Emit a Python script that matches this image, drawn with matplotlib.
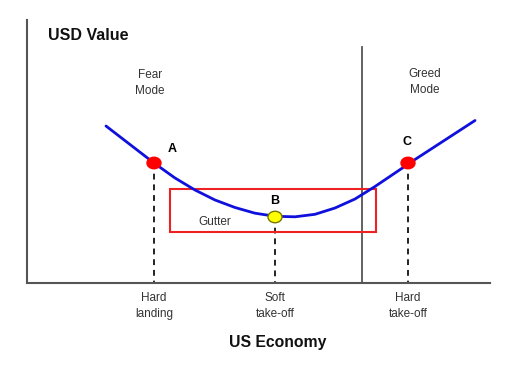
import matplotlib.pyplot as plt
from matplotlib.patches import Rectangle, Ellipse

plt.rcParams['font.family'] = ['Liberation Sans', 'DejaVu Sans']

# curve of USD value vs US economy (picture coordinates, y grows downward)
curve_x = [106, 130, 154, 175, 195, 215, 235, 255, 275, 295, 315, 335, 355, 375, 395, 415, 435, 455, 475]
curve_y = [126, 144.5, 163, 178, 190, 200, 207.5, 213.2, 216.3, 216.8, 214.3, 208, 199, 186.5, 173, 159.5, 146.5, 133.5, 120.5]

point_names = ["A", "B", "C"]
point_x = [154, 275, 408]
point_y = [163, 217, 163]
point_colors = ["red", "yellow", "red"]

tick_labels = ["Hard\nlanding", "Soft\ntake-off", "Hard\ntake-off"]

fig = plt.figure(figsize=(5.14, 3.86), dpi=100)
ax = fig.add_axes([0, 0, 1, 1])
ax.set_xlim(0, 514)
ax.set_ylim(386, 0)
ax.axis("off")

axis_col = "#555555"
# axes
ax.plot([27, 27], [20, 283], color=axis_col, lw=1.5)
ax.plot([27, 490], [283, 283], color=axis_col, lw=1.5)
# fear / greed divider
ax.plot([362, 362], [47, 283], color=axis_col, lw=1.3)

# gutter box
ax.add_patch(Rectangle((170, 189), 206, 43, fill=False, edgecolor="#ee2222", lw=1.5, zorder=2))

ax.plot(curve_x, curve_y, color="#1010dd", lw=2, zorder=3,
        solid_joinstyle="round", solid_capstyle="round")

for name, px, py, c in zip(point_names, point_x, point_y, point_colors):
    ax.plot([px, px], [py, 283], color="#222222", lw=1.4, ls=(0, (3, 2.5)), zorder=1)
    ec = "#777700" if c == "yellow" else "red"
    ax.add_patch(Ellipse((px, py), 14, 11.5, facecolor=c, edgecolor=ec, lw=1, zorder=4))

ax.text(172, 149, "A", fontsize=9, fontweight="bold", ha="center", va="center")
ax.text(275, 201, "B", fontsize=9, fontweight="bold", ha="center", va="center")
ax.text(407, 142, "C", fontsize=9, fontweight="bold", ha="center", va="center")
ax.text(215, 222, "Gutter", fontsize=8.5, color="#333333", ha="center", va="center")

ax.text(150, 83, "Fear\nMode", fontsize=8.5, color="#333333", ha="center", va="center", linespacing=1.4)
ax.text(425, 82, "Greed\nMode", fontsize=8.5, color="#333333", ha="center", va="center", linespacing=1.4)

for lbl, px in zip(tick_labels, point_x):
    ax.text(px, 306, lbl, fontsize=8.5, color="#333333", ha="center", va="center", linespacing=1.4)

ax.text(48, 35, "USD Value", fontsize=11.5, fontweight="bold", ha="left", va="center", color="#111111")
ax.text(278, 342, "US Economy", fontsize=11.3, fontweight="bold", ha="center", va="center", color="#111111")

fig.savefig("out.png", dpi=100)
